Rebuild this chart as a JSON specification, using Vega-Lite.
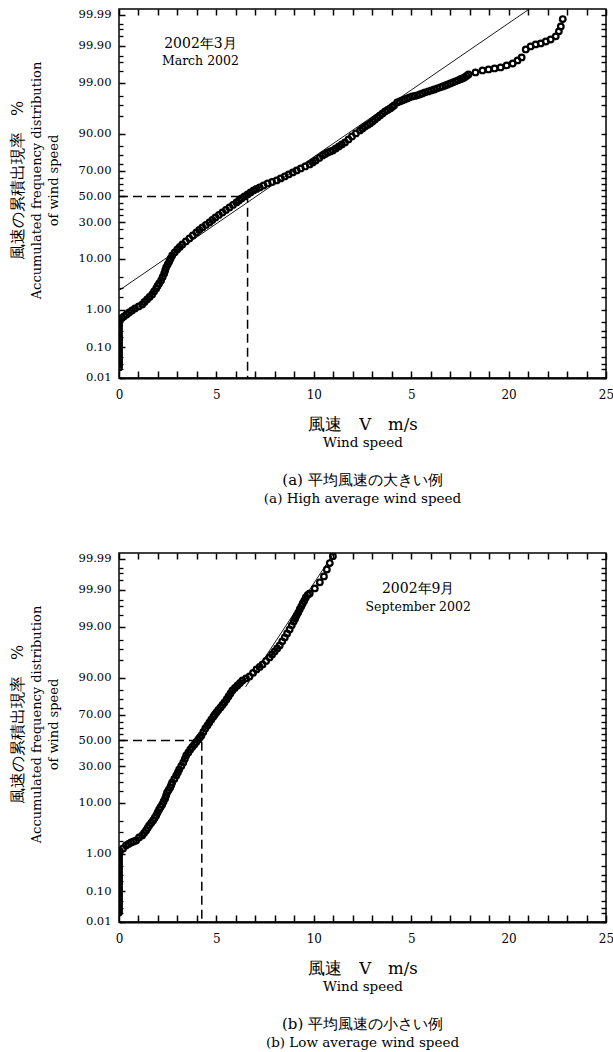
{
  "$schema": "https://vega.github.io/schema/vega-lite/v6.json",
  "background": "white",
  "padding": {"left": 8, "top": 7, "right": 4, "bottom": 2},
  "spacing": 45,
  "config": {
    "font": "DejaVu Serif",
    "view": {"stroke": "black", "strokeWidth": 1.5},
    "axis": {"labelFont": "DejaVu Serif", "titleFont": "DejaVu Serif", "ticks": true, "tickOpacity": 1},
    "text": {"font": "DejaVu Serif"},
    "title": {"font": "DejaVu Serif", "subtitleFont": "DejaVu Serif"}
  },
  "datasets": {
    "marA": [
      {"v":0,"p":0.023},{"v":0,"p":0.028},{"v":0,"p":0.034},{"v":0,"p":0.04},{"v":0,"p":0.048},{"v":0,"p":0.058},{"v":0,"p":0.069},{"v":0,"p":0.083},{"v":0,"p":0.1},{"v":0,"p":0.12},{"v":0,"p":0.14},{"v":0,"p":0.165},{"v":0,"p":0.19},{"v":0,"p":0.22},{"v":0,"p":0.26},{"v":0,"p":0.31},{"v":0,"p":0.37},{"v":0,"p":0.43},{"v":0,"p":0.49},{"v":0,"p":0.54},
      {"v":0.05,"p":0.59},{"v":0.15,"p":0.64},{"v":0.26,"p":0.7},{"v":0.39,"p":0.78},{"v":0.52,"p":0.87},{"v":0.67,"p":0.97},{"v":0.82,"p":1.09},{"v":1.01,"p":1.21},{"v":1.19,"p":1.34},{"v":1.31,"p":1.53},{"v":1.44,"p":1.74},{"v":1.57,"p":1.97},{"v":1.7,"p":2.23},{"v":1.8,"p":2.58},{"v":1.91,"p":2.97},{"v":1.98,"p":3.33},{"v":2.06,"p":3.73},{"v":2.16,"p":4.26},{"v":2.24,"p":4.95},{"v":2.32,"p":5.73},{"v":2.37,"p":6.47},{"v":2.42,"p":7.28},{"v":2.5,"p":8.18},{"v":2.58,"p":9.14},{"v":2.65,"p":10.2},{"v":2.73,"p":11.33},{"v":2.86,"p":12.55},{"v":2.99,"p":13.87},{"v":3.12,"p":15.03},{"v":3.25,"p":16.26},{"v":3.43,"p":17.83},{"v":3.61,"p":19.46},{"v":3.79,"p":21.21},{"v":3.97,"p":23.03},{"v":4.12,"p":24.63},{"v":4.28,"p":26.27},{"v":4.46,"p":27.96},{"v":4.64,"p":29.7},{"v":4.79,"p":31.49},{"v":4.95,"p":33.36},{"v":5.13,"p":35.23},{"v":5.31,"p":37.15},{"v":5.49,"p":39.09},{"v":5.67,"p":41.1},{"v":5.85,"p":43.09},{"v":6.03,"p":45.11},{"v":6.16,"p":46.73},{"v":6.29,"p":48.36},{"v":6.44,"p":50.0},{"v":6.6,"p":51.64},{"v":6.75,"p":53.27},{"v":6.91,"p":54.89},{"v":7.06,"p":56.12},{"v":7.22,"p":57.31},{"v":7.42,"p":58.9},{"v":7.63,"p":60.49},{"v":7.86,"p":61.68},{"v":8.09,"p":62.85},{"v":8.3,"p":64.39},{"v":8.51,"p":65.91},{"v":8.71,"p":67.4},{"v":8.92,"p":68.86},{"v":9.12,"p":70.3},{"v":9.33,"p":71.7},{"v":9.56,"p":73.07},{"v":9.79,"p":74.41},{"v":9.95,"p":75.71},{"v":10.1,"p":76.97},{"v":10.28,"p":78.49},{"v":10.46,"p":79.96},{"v":10.59,"p":80.81},{"v":10.72,"p":81.64},{"v":10.85,"p":82.17},{"v":10.98,"p":82.71},{"v":11.13,"p":83.74},{"v":11.29,"p":84.73},{"v":11.44,"p":85.68},{"v":11.6,"p":86.58},{"v":11.78,"p":87.86},{"v":11.96,"p":89.06},{"v":12.16,"p":90.16},{"v":12.37,"p":91.18},{"v":12.5,"p":91.82},{"v":12.63,"p":92.42},{"v":12.76,"p":92.86},{"v":12.89,"p":93.27},{"v":13.02,"p":93.78},{"v":13.14,"p":94.27},{"v":13.27,"p":94.73},{"v":13.4,"p":95.15},{"v":13.53,"p":95.55},{"v":13.66,"p":95.92},{"v":13.79,"p":96.19},{"v":13.92,"p":96.43},{"v":14.02,"p":96.67},{"v":14.12,"p":96.89},{"v":14.28,"p":97.3},{"v":14.41,"p":97.42},{"v":14.54,"p":97.54},{"v":14.66,"p":97.66},{"v":14.79,"p":97.77},{"v":14.92,"p":97.88},{"v":15.05,"p":97.98},{"v":15.18,"p":98.03},{"v":15.31,"p":98.08},{"v":15.44,"p":98.17},{"v":15.57,"p":98.26},{"v":15.72,"p":98.35},{"v":15.88,"p":98.43},{"v":16.03,"p":98.51},{"v":16.19,"p":98.58},{"v":16.34,"p":98.66},{"v":16.49,"p":98.73},{"v":16.62,"p":98.79},{"v":16.75,"p":98.85},{"v":16.88,"p":98.91},{"v":17.01,"p":98.97},{"v":17.14,"p":99.03},{"v":17.27,"p":99.08},{"v":17.4,"p":99.13},{"v":17.53,"p":99.18},{"v":17.63,"p":99.22},{"v":17.73,"p":99.26},{"v":17.84,"p":99.32},{"v":17.94,"p":99.38},
      {"v":18.3,"p":99.447},{"v":18.66,"p":99.509},{"v":18.97,"p":99.537},{"v":19.28,"p":99.564},{"v":19.59,"p":99.589},{"v":19.9,"p":99.636},{"v":20.21,"p":99.678},{"v":20.46,"p":99.734},{"v":20.67,"p":99.78},{"v":20.88,"p":99.87},{"v":21.13,"p":99.894},{"v":21.39,"p":99.908},{"v":21.65,"p":99.914},{"v":21.91,"p":99.925},{"v":22.16,"p":99.935},{"v":22.42,"p":99.948},{"v":22.58,"p":99.964},{"v":22.68,"p":99.975},{"v":22.78,"p":99.986}
    ],
    "sepB": [
      {"v":0,"p":0.021},{"v":0,"p":0.026},{"v":0,"p":0.031},{"v":0,"p":0.038},{"v":0,"p":0.045},{"v":0,"p":0.055},{"v":0,"p":0.065},{"v":0,"p":0.078},{"v":0,"p":0.092},{"v":0,"p":0.11},{"v":0,"p":0.13},{"v":0,"p":0.155},{"v":0,"p":0.18},{"v":0,"p":0.215},{"v":0,"p":0.25},{"v":0,"p":0.29},{"v":0,"p":0.34},{"v":0,"p":0.4},{"v":0,"p":0.46},{"v":0,"p":0.54},{"v":0,"p":0.62},{"v":0,"p":0.72},{"v":0,"p":0.82},{"v":0,"p":0.92},{"v":0,"p":1.03},
      {"v":0.05,"p":1.15},{"v":0.21,"p":1.34},{"v":0.36,"p":1.57},{"v":0.49,"p":1.7},{"v":0.62,"p":1.83},{"v":0.75,"p":1.92},{"v":0.88,"p":2.02},{"v":1.03,"p":2.34},{"v":1.19,"p":2.58},{"v":1.29,"p":2.9},{"v":1.39,"p":3.26},{"v":1.47,"p":3.65},{"v":1.55,"p":4.08},{"v":1.65,"p":4.54},{"v":1.75,"p":5.06},{"v":1.83,"p":5.61},{"v":1.91,"p":6.22},{"v":1.98,"p":7.01},{"v":2.06,"p":7.87},{"v":2.14,"p":8.65},{"v":2.22,"p":9.49},{"v":2.29,"p":10.56},{"v":2.37,"p":11.72},{"v":2.42,"p":12.99},{"v":2.47,"p":14.32},{"v":2.55,"p":15.53},{"v":2.63,"p":16.78},{"v":2.68,"p":18.09},{"v":2.73,"p":19.46},{"v":2.84,"p":21.51},{"v":2.94,"p":23.67},{"v":3.02,"p":25.59},{"v":3.09,"p":27.62},{"v":3.2,"p":30.05},{"v":3.3,"p":32.6},{"v":3.38,"p":35.23},{"v":3.45,"p":37.94},{"v":3.56,"p":40.28},{"v":3.66,"p":42.7},{"v":3.76,"p":44.71},{"v":3.87,"p":46.73},{"v":3.97,"p":48.76},{"v":4.07,"p":50.8},{"v":4.15,"p":52.44},{"v":4.23,"p":54.06},{"v":4.33,"p":56.91},{"v":4.43,"p":59.72},{"v":4.54,"p":62.06},{"v":4.64,"p":64.39},{"v":4.74,"p":66.64},{"v":4.85,"p":68.86},{"v":4.92,"p":70.3},{"v":5.0,"p":71.7},{"v":5.1,"p":73.4},{"v":5.21,"p":75.05},{"v":5.31,"p":76.64},{"v":5.41,"p":78.2},{"v":5.52,"p":79.96},{"v":5.62,"p":81.64},{"v":5.72,"p":83.22},{"v":5.82,"p":84.73},{"v":5.95,"p":85.9},{"v":6.08,"p":87.01},{"v":6.21,"p":88.06},{"v":6.34,"p":89.06},{"v":6.52,"p":89.8},{"v":6.7,"p":90.51},{"v":6.88,"p":91.67},{"v":7.06,"p":92.72},{"v":7.22,"p":93.4},{"v":7.37,"p":94.03},{"v":7.55,"p":94.83},{"v":7.73,"p":95.55},{"v":7.86,"p":96.1},{"v":7.99,"p":96.59},{"v":8.12,"p":97.03},{"v":8.25,"p":97.42},{"v":8.38,"p":97.88},{"v":8.51,"p":98.26},{"v":8.63,"p":98.58},{"v":8.76,"p":98.85},{"v":8.87,"p":99.08},{"v":8.97,"p":99.26},{"v":9.05,"p":99.38},{"v":9.12,"p":99.48},{"v":9.2,"p":99.56},{"v":9.28,"p":99.64},{"v":9.36,"p":99.7},{"v":9.43,"p":99.75},{"v":9.51,"p":99.79},{"v":9.59,"p":99.83},{"v":9.69,"p":99.857},{"v":9.79,"p":99.87},{"v":10.05,"p":99.908},{"v":10.31,"p":99.94},{"v":10.52,"p":99.961},{"v":10.67,"p":99.977},{"v":10.82,"p":99.986},{"v":10.98,"p":99.992}
    ],
    "fitA": [{"v":0,"p":2.7},{"v":21.03,"p":99.9936}],
    "fitB": [{"v":6.5,"p":86.4},{"v":11.2,"p":99.996}],
    "dashA": [{"k":1,"v":0,"p":50},{"k":2,"v":6.6,"p":50},{"k":3,"v":6.6,"p":0.00999}],
    "dashB": [{"k":1,"v":0,"p":50},{"k":2,"v":4.25,"p":50},{"k":3,"v":4.25,"p":0.00999}],
    "notesA": [{"v":4.18,"p":99.908,"t":"2002年3月","line":1},{"v":4.18,"p":99.716,"t":"March 2002","line":2}],
    "notesB": [{"v":15.36,"p":99.901,"t":"2002年9月","line":1},{"v":15.36,"p":99.678,"t":"September 2002","line":2}]
  },
  "vconcat": [
    {
      "width": 487, "height": 369,
      "title": {"text": "(a) 平均風速の大きい例", "subtitle": "(a) High average wind speed", "orient": "bottom", "anchor": "middle", "fontSize": 15, "fontWeight": "normal", "color": "black", "subtitleFontSize": 13.5, "subtitleColor": "black", "offset": 24, "subtitlePadding": 4},
      "resolve": {"axis": {"x": "independent", "y": "independent"}},
      "layer": [
        {
          "data": {"name": "fitA"},
          "transform": [{"calculate": "quantileNormal(datum.p/100)", "as": "z"}],
          "mark": {"type": "line", "color": "black", "strokeWidth": 0.9, "clip": true},
          "encoding": {
            "x": {"field": "v", "type": "quantitative", "scale": {"domain": [0, 25], "nice": false, "zero": false},
                  "axis": {"orient": "top", "values": [0,1,2,3,4,5,6,7,8,9,10,11,12,13,14,15,16,17,18,19,20,21,22,23,24,25], "labels": false, "ticks": true, "offset": -6, "tickSize": 6, "tickWidth": 1.5, "tickColor": "#000000", "domain": false, "grid": false, "title": null}},
            "y": {"field": "z", "type": "quantitative", "scale": {"domain": [-3.72, 3.84], "nice": false, "zero": false},
                  "axis": {"orient": "right", "values": [-3.719,-3.09,-2.326,-1.2816,-0.5244,0,0.5244,1.2816,2.326,3.09,3.719,-3.54,-3.432,-3.2905,-2.878,-2.748,-2.5758,-2.0537,-1.881,-1.6449,-1.0364,-0.8416,-0.6745,-0.3853,-0.2533,-0.1257,0.1257,0.2533,0.3853,0.6745,0.8416,1.0364,1.6449,1.881,2.0537,2.5758,2.748,2.878,3.2905,3.432,3.54], "labels": false, "ticks": true, "offset": -5, "tickSize": 5, "tickWidth": 1.4, "tickColor": "#000000", "domain": false, "grid": false, "title": null}}
          }
        },
        {
          "data": {"name": "marA"},
          "transform": [{"calculate": "quantileNormal(datum.p/100)", "as": "z"}],
          "mark": {"type": "point", "shape": "circle", "filled": false, "color": "black", "size": 32, "strokeWidth": 2.2, "opacity": 1, "clip": true},
          "encoding": {
            "x": {"field": "v", "type": "quantitative", "scale": {"domain": [0, 25], "nice": false, "zero": false},
                  "axis": {"orient": "bottom", "values": [0,1,2,3,4,5,6,7,8,9,10,11,12,13,14,15,16,17,18,19,20,21,22,23,24,25], "labelExpr": "datum.value==15?'5':(datum.value%5==0?datum.label:'')", "labelFlush": false, "labelOverlap": false, "ticks": true, "offset": -7, "tickSize": 7, "tickWidth": 1.5, "tickColor": "#000000", "domain": false, "grid": false, "labelFont": "DejaVu Serif", "labelFontSize": 12, "labelColor": "black", "labelPadding": 11, "title": "風速　V　m/s", "titleFont": "DejaVu Serif", "titleFontSize": 16.5, "titleFontWeight": "normal", "titleColor": "black", "titleY": 53, "titleBaseline": "middle"}},
            "y": {"field": "z", "type": "quantitative", "scale": {"domain": [-3.72, 3.84], "nice": false, "zero": false},
                  "axis": {"orient": "left", "values": [-3.719,-3.09,-2.326,-1.2816,-0.5244,0,0.5244,1.2816,2.326,3.09,3.719], "labelExpr": "format(cumulativeNormal(datum.value)*100,'.2f')", "labelFlush": false, "labelOverlap": false, "ticks": true, "offset": -6, "tickSize": 6, "tickWidth": 1.5, "tickColor": "#000000", "domain": false, "grid": false, "labelFont": "DejaVu Serif", "labelFontSize": 11.5, "labelColor": "black", "labelPadding": 8, "title": ["Accumulated frequency distribution", "of wind speed"], "titleFont": "DejaVu Serif", "titleFontSize": 13, "titleFontWeight": "normal", "titleColor": "black", "titleLineHeight": 17, "titleX": -89, "titleY": 171, "titleAlign": "center", "titleBaseline": "middle", "titleAngle": -90}}
          }
        },
        {
          "data": {"name": "dashA"},
          "transform": [{"calculate": "quantileNormal(datum.p/100)", "as": "z"}],
          "mark": {"type": "line", "color": "black", "strokeWidth": 1.5, "strokeDash": [9, 5]},
          "encoding": {
            "x": {"field": "v", "type": "quantitative", "scale": {"domain": [0, 25], "nice": false, "zero": false},
                  "axis": {"orient": "bottom", "ticks": false, "labels": false, "domain": true, "domainColor": "black", "domainWidth": 2, "grid": false, "title": "Wind speed", "titleFont": "DejaVu Serif", "titleFontSize": 13.5, "titleFontWeight": "normal", "titleColor": "black", "titleY": 64, "titleBaseline": "middle"}},
            "y": {"field": "z", "type": "quantitative", "scale": {"domain": [-3.72, 3.84], "nice": false, "zero": false},
                  "axis": {"orient": "left", "values": [-3.54,-3.432,-3.2905,-2.878,-2.748,-2.5758,-2.0537,-1.881,-1.6449,-1.0364,-0.8416,-0.6745,-0.3853,-0.2533,-0.1257,0.1257,0.2533,0.3853,0.6745,0.8416,1.0364,1.6449,1.881,2.0537,2.5758,2.748,2.878,3.2905,3.432,3.54], "labels": false, "ticks": true, "offset": -4, "tickSize": 4, "tickWidth": 1.3, "tickColor": "#000000", "domain": false, "grid": false, "title": "風速の累積出現率　%", "titleFont": "DejaVu Serif", "titleFontSize": 16, "titleFontWeight": "normal", "titleColor": "black", "titleX": -106, "titleY": 171, "titleAlign": "center", "titleBaseline": "middle", "titleAngle": -90}},
            "order": {"field": "k", "type": "quantitative"}
          }
        },
        {
          "data": {"name": "notesA"},
          "transform": [{"calculate": "quantileNormal(datum.p/100)", "as": "z"}, {"filter": "datum.line == 1"}],
          "mark": {"type": "text", "font": "DejaVu Serif", "fontSize": 14, "color": "black", "align": "center", "baseline": "middle"},
          "encoding": {
            "x": {"field": "v", "type": "quantitative", "scale": {"domain": [0, 25], "nice": false, "zero": false}, "axis": null},
            "y": {"field": "z", "type": "quantitative", "scale": {"domain": [-3.72, 3.84], "nice": false, "zero": false}, "axis": null},
            "text": {"field": "t"}
          }
        },
        {
          "data": {"name": "notesA"},
          "transform": [{"calculate": "quantileNormal(datum.p/100)", "as": "z"}, {"filter": "datum.line == 2"}],
          "mark": {"type": "text", "font": "DejaVu Serif", "fontSize": 12.5, "color": "black", "align": "center", "baseline": "middle"},
          "encoding": {
            "x": {"field": "v", "type": "quantitative", "scale": {"domain": [0, 25], "nice": false, "zero": false}, "axis": null},
            "y": {"field": "z", "type": "quantitative", "scale": {"domain": [-3.72, 3.84], "nice": false, "zero": false}, "axis": null},
            "text": {"field": "t"}
          }
        }
      ]
    },
    {
      "width": 487, "height": 369,
      "title": {"text": "(b) 平均風速の小さい例", "subtitle": "(b) Low average wind speed", "orient": "bottom", "anchor": "middle", "fontSize": 15, "fontWeight": "normal", "color": "black", "subtitleFontSize": 13.5, "subtitleColor": "black", "offset": 24, "subtitlePadding": 4},
      "resolve": {"axis": {"x": "independent", "y": "independent"}},
      "layer": [
        {
          "data": {"name": "fitB"},
          "transform": [{"calculate": "quantileNormal(datum.p/100)", "as": "z"}],
          "mark": {"type": "line", "color": "black", "strokeWidth": 0.9, "clip": true},
          "encoding": {
            "x": {"field": "v", "type": "quantitative", "scale": {"domain": [0, 25], "nice": false, "zero": false},
                  "axis": {"orient": "top", "values": [0,1,2,3,4,5,6,7,8,9,10,11,12,13,14,15,16,17,18,19,20,21,22,23,24,25], "labels": false, "ticks": true, "offset": -6, "tickSize": 6, "tickWidth": 1.5, "tickColor": "#000000", "domain": false, "grid": false, "title": null}},
            "y": {"field": "z", "type": "quantitative", "scale": {"domain": [-3.72, 3.84], "nice": false, "zero": false},
                  "axis": {"orient": "right", "values": [-3.719,-3.09,-2.326,-1.2816,-0.5244,0,0.5244,1.2816,2.326,3.09,3.719,-3.54,-3.432,-3.2905,-2.878,-2.748,-2.5758,-2.0537,-1.881,-1.6449,-1.0364,-0.8416,-0.6745,-0.3853,-0.2533,-0.1257,0.1257,0.2533,0.3853,0.6745,0.8416,1.0364,1.6449,1.881,2.0537,2.5758,2.748,2.878,3.2905,3.432,3.54], "labels": false, "ticks": true, "offset": -5, "tickSize": 5, "tickWidth": 1.4, "tickColor": "#000000", "domain": false, "grid": false, "title": null}}
          }
        },
        {
          "data": {"name": "sepB"},
          "transform": [{"calculate": "quantileNormal(datum.p/100)", "as": "z"}],
          "mark": {"type": "point", "shape": "circle", "filled": false, "color": "black", "size": 32, "strokeWidth": 2.2, "opacity": 1, "clip": true},
          "encoding": {
            "x": {"field": "v", "type": "quantitative", "scale": {"domain": [0, 25], "nice": false, "zero": false},
                  "axis": {"orient": "bottom", "values": [0,1,2,3,4,5,6,7,8,9,10,11,12,13,14,15,16,17,18,19,20,21,22,23,24,25], "labelExpr": "datum.value==15?'5':(datum.value%5==0?datum.label:'')", "labelFlush": false, "labelOverlap": false, "ticks": true, "offset": -7, "tickSize": 7, "tickWidth": 1.5, "tickColor": "#000000", "domain": false, "grid": false, "labelFont": "DejaVu Serif", "labelFontSize": 12, "labelColor": "black", "labelPadding": 11, "title": "風速　V　m/s", "titleFont": "DejaVu Serif", "titleFontSize": 16.5, "titleFontWeight": "normal", "titleColor": "black", "titleY": 53, "titleBaseline": "middle"}},
            "y": {"field": "z", "type": "quantitative", "scale": {"domain": [-3.72, 3.84], "nice": false, "zero": false},
                  "axis": {"orient": "left", "values": [-3.719,-3.09,-2.326,-1.2816,-0.5244,0,0.5244,1.2816,2.326,3.09,3.719], "labelExpr": "format(cumulativeNormal(datum.value)*100,'.2f')", "labelFlush": false, "labelOverlap": false, "ticks": true, "offset": -6, "tickSize": 6, "tickWidth": 1.5, "tickColor": "#000000", "domain": false, "grid": false, "labelFont": "DejaVu Serif", "labelFontSize": 11.5, "labelColor": "black", "labelPadding": 8, "title": ["Accumulated frequency distribution", "of wind speed"], "titleFont": "DejaVu Serif", "titleFontSize": 13, "titleFontWeight": "normal", "titleColor": "black", "titleLineHeight": 17, "titleX": -89, "titleY": 171, "titleAlign": "center", "titleBaseline": "middle", "titleAngle": -90}}
          }
        },
        {
          "data": {"name": "dashB"},
          "transform": [{"calculate": "quantileNormal(datum.p/100)", "as": "z"}],
          "mark": {"type": "line", "color": "black", "strokeWidth": 1.5, "strokeDash": [9, 5]},
          "encoding": {
            "x": {"field": "v", "type": "quantitative", "scale": {"domain": [0, 25], "nice": false, "zero": false},
                  "axis": {"orient": "bottom", "ticks": false, "labels": false, "domain": true, "domainColor": "black", "domainWidth": 2, "grid": false, "title": "Wind speed", "titleFont": "DejaVu Serif", "titleFontSize": 13.5, "titleFontWeight": "normal", "titleColor": "black", "titleY": 64, "titleBaseline": "middle"}},
            "y": {"field": "z", "type": "quantitative", "scale": {"domain": [-3.72, 3.84], "nice": false, "zero": false},
                  "axis": {"orient": "left", "values": [-3.54,-3.432,-3.2905,-2.878,-2.748,-2.5758,-2.0537,-1.881,-1.6449,-1.0364,-0.8416,-0.6745,-0.3853,-0.2533,-0.1257,0.1257,0.2533,0.3853,0.6745,0.8416,1.0364,1.6449,1.881,2.0537,2.5758,2.748,2.878,3.2905,3.432,3.54], "labels": false, "ticks": true, "offset": -4, "tickSize": 4, "tickWidth": 1.3, "tickColor": "#000000", "domain": false, "grid": false, "title": "風速の累積出現率　%", "titleFont": "DejaVu Serif", "titleFontSize": 16, "titleFontWeight": "normal", "titleColor": "black", "titleX": -106, "titleY": 171, "titleAlign": "center", "titleBaseline": "middle", "titleAngle": -90}},
            "order": {"field": "k", "type": "quantitative"}
          }
        },
        {
          "data": {"name": "notesB"},
          "transform": [{"calculate": "quantileNormal(datum.p/100)", "as": "z"}, {"filter": "datum.line == 1"}],
          "mark": {"type": "text", "font": "DejaVu Serif", "fontSize": 14, "color": "black", "align": "center", "baseline": "middle"},
          "encoding": {
            "x": {"field": "v", "type": "quantitative", "scale": {"domain": [0, 25], "nice": false, "zero": false}, "axis": null},
            "y": {"field": "z", "type": "quantitative", "scale": {"domain": [-3.72, 3.84], "nice": false, "zero": false}, "axis": null},
            "text": {"field": "t"}
          }
        },
        {
          "data": {"name": "notesB"},
          "transform": [{"calculate": "quantileNormal(datum.p/100)", "as": "z"}, {"filter": "datum.line == 2"}],
          "mark": {"type": "text", "font": "DejaVu Serif", "fontSize": 12.5, "color": "black", "align": "center", "baseline": "middle"},
          "encoding": {
            "x": {"field": "v", "type": "quantitative", "scale": {"domain": [0, 25], "nice": false, "zero": false}, "axis": null},
            "y": {"field": "z", "type": "quantitative", "scale": {"domain": [-3.72, 3.84], "nice": false, "zero": false}, "axis": null},
            "text": {"field": "t"}
          }
        }
      ]
    }
  ]
}
